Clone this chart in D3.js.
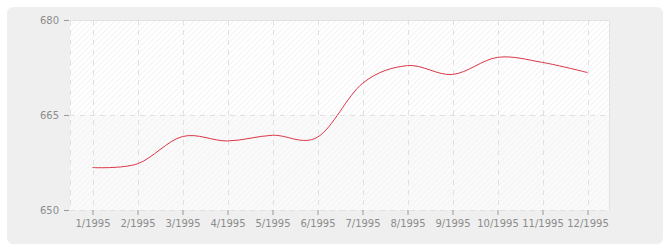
<!DOCTYPE html>
<html>
<head>
<meta charset="utf-8">
<script src="https://cdn.jsdelivr.net/npm/d3@7"></script>
<style>
  body { margin: 0; background: #fff; }
  text { font-family: "DejaVu Sans", Verdana, sans-serif; }
</style>
</head>
<body>
<div id="chart"></div>
<script>
// Data
const months = ["1/1995", "2/1995", "3/1995", "4/1995", "5/1995", "6/1995",
                "7/1995", "8/1995", "9/1995", "10/1995", "11/1995", "12/1995"];
const values = [656.7, 657.3, 661.6, 660.9, 661.8, 661.5,
                670.0, 672.8, 671.4, 674.1, 673.3, 671.7];
const yTicks = [650, 665, 680];

const width = 670;
const height = 250;
const margin = { top: 20, right: 60, bottom: 40, left: 70 };
const innerW = width - margin.left - margin.right;   // 540
const innerH = height - margin.top - margin.bottom;  // 190

const svg = d3.select("#chart")
    .append("svg")
    .attr("width", width)
    .attr("height", height);

// Gray panel behind everything
svg.append("rect")
    .attr("x", 7)
    .attr("y", 7)
    .attr("width", 656)
    .attr("height", 237)
    .attr("rx", 6)
    .attr("fill", "#efefef");

// Hatch patterns
const defs = svg.append("defs");
function addHatch(id, bg, line) {
    const p = defs.append("pattern")
        .attr("id", id)
        .attr("patternUnits", "userSpaceOnUse")
        .attr("width", 4)
        .attr("height", 4)
        .attr("patternTransform", "rotate(45)");
    p.append("rect").attr("width", 4).attr("height", 4).attr("fill", bg);
    p.append("line")
        .attr("x1", 0).attr("y1", 0).attr("x2", 0).attr("y2", 4)
        .attr("stroke", line)
        .attr("stroke-width", 1.2);
}
addHatch("hatchTop", "#ffffff", "#ececec");
addHatch("hatchBottom", "#fafafa", "#f1f1f1");

const g = svg.append("g")
    .attr("transform", `translate(${margin.left}, ${margin.top})`);

// Scales
const x = d3.scalePoint()
    .domain(months)
    .range([0, innerW])
    .padding(0.5);

const y = d3.scaleLinear()
    .domain([650, 680])
    .range([innerH, 0]);

// Plot background bands
g.append("rect")
    .attr("x", 0).attr("y", y(680))
    .attr("width", innerW).attr("height", y(665) - y(680))
    .attr("fill", "url(#hatchTop)");
g.append("rect")
    .attr("x", 0).attr("y", y(665))
    .attr("width", innerW).attr("height", y(650) - y(665))
    .attr("fill", "url(#hatchBottom)");

// Top and right border
g.append("path")
    .attr("d", `M0,0.5H${innerW - 0.5}V${innerH}`)
    .attr("fill", "none")
    .attr("stroke", "#e2e2e2");

// Grid lines
g.append("g")
    .selectAll("line")
    .data(months)
    .enter()
    .append("line")
    .attr("x1", d => Math.round(x(d)) + 0.5)
    .attr("x2", d => Math.round(x(d)) + 0.5)
    .attr("y1", 0)
    .attr("y2", innerH)
    .attr("stroke", "#e0e0e0")
    .attr("stroke-dasharray", "5,5");

g.append("g")
    .selectAll("line")
    .data(yTicks.slice(0, 2))
    .enter()
    .append("line")
    .attr("x1", 0)
    .attr("x2", innerW)
    .attr("y1", d => Math.round(y(d)) + 0.5)
    .attr("y2", d => Math.round(y(d)) + 0.5)
    .attr("stroke", "#e0e0e0")
    .attr("stroke-dasharray", "5,5");

// left dashed edge
g.append("line")
    .attr("x1", 0.5).attr("x2", 0.5)
    .attr("y1", 0).attr("y2", innerH)
    .attr("stroke", "#e0e0e0")
    .attr("stroke-dasharray", "5,5");

// Axes
const xAxis = g.append("g")
    .attr("transform", `translate(0, ${innerH})`)
    .call(d3.axisBottom(x).tickSize(5).tickPadding(5));
xAxis.select(".domain").remove();
xAxis.selectAll("line").attr("stroke", "#999");
xAxis.selectAll("text")
    .attr("fill", "#8c8c8c")
    .style("font-size", "10px");

const yAxis = g.append("g")
    .attr("transform", "translate(-1, 0)")
    .call(d3.axisLeft(y).tickValues(yTicks).tickSize(5).tickPadding(5));
yAxis.select(".domain").remove();
yAxis.selectAll("line").attr("stroke", "#999");
yAxis.selectAll("text")
    .attr("fill", "#8c8c8c")
    .style("font-size", "10px");

// Line
const line = d3.line()
    .x((d, i) => x(months[i]))
    .y(d => y(d))
    .curve(d3.curveCardinal.tension(0));

g.append("path")
    .datum(values)
    .attr("d", line)
    .attr("fill", "none")
    .attr("stroke", "#dc3545")
    .attr("stroke-width", 1);
</script>
</body>
</html>
